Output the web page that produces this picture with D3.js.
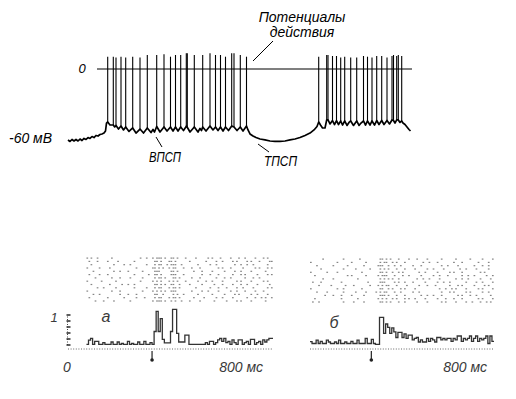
<!DOCTYPE html>
<html>
<head>
<meta charset="utf-8">
<script src="https://cdn.jsdelivr.net/npm/d3@7"></script>
<style>
body { margin: 0; background: #fff; }
svg { display: block; font-family: "Liberation Sans", Arial, sans-serif; font-style: italic; }
</style>
</head>
<body>
<svg id="chart" width="516" height="399"></svg>
<script>
// membrane potential between spikes, [time ms, mV]
let membrane = [
    [0,-61.7],[20,-63],[40,-61.3],[60,-62.6],[80,-61.3],[100,-62.6],[120,-60.9],[140,-62.2],[160,-60.4],[180,-61.3],
    [200,-59.6],[220,-60.4],[240,-58.7],[260,-59.6],[280,-57.8],[300,-58.3],[320,-57],[340,-56.5],[360,-55.7],[375,-53.9],
    [385,-47],[397,-46.1],[420,-48.7],[453,-48.7],[467,-50.4],[480,-49.1],[505,-52.2],[530,-49.6],[555,-53],[577,-50.4],
    [610,-54.3],[647,-51.3],[680,-55.7],[720,-52.2],[755,-55.7],[793,-51.3],[830,-55.2],[850,-52.6],[865,-54.8],[887,-50],
    [920,-54.8],[960,-50.4],[990,-53.9],[1025,-50.4],[1050,-53.9],[1075,-50.4],[1100,-53.9],[1127,-50.4],[1155,-53.5],[1185,-49.6],
    [1220,-54.8],[1263,-50.4],[1300,-54.8],[1320,-51.7],[1335,-53.5],[1347,-50.4],[1380,-53.9],[1420,-49.6],[1450,-53],[1475,-50.4],
    [1500,-53.5],[1525,-50.4],[1550,-53.9],[1575,-50.4],[1605,-53.5],[1637,-49.6],[1660,-50.4],[1690,-53.5],[1723,-50.4],[1750,-53.9],
    [1785,-49.6],[1800,-53],[1820,-56.5],[1850,-58.3],[1880,-59.6],[1920,-60.9],[1970,-61.7],[2020,-62.6],[2070,-63],[2120,-63],
    [2170,-62.6],[2220,-61.7],[2270,-60.9],[2320,-59.6],[2370,-57.8],[2420,-55.7],[2460,-53],[2490,-50],[2507,-46.1],[2525,-48.7],
    [2545,-51.3],[2570,-51.3],[2587,-44.3],[2600,-44.3],[2620,-47.8],[2645,-44.8],[2665,-48.3],[2685,-44.8],[2705,-48.3],[2727,-45.2],
    [2745,-48.7],[2767,-45.2],[2790,-49.1],[2810,-46.5],[2827,-45.2],[2855,-49.1],[2887,-45.2],[2910,-49.1],[2930,-47],[2955,-45.2],
    [2975,-48.7],[2995,-45.2],[3020,-48.7],[3040,-45.2],[3065,-48.7],[3087,-44.8],[3110,-48.3],[3137,-44.8],[3160,-48.3],[3190,-44.8],
    [3215,-47.8],[3240,-44.3],[3255,-44.8],[3270,-47],[3287,-44.3],[3303,-44.3],[3320,-46.5],[3337,-45.2],[3350,-47],[3370,-48.3],
    [3390,-50.4],[3410,-52.6],[3425,-53.9]
]

// action potentials: time (ms) and peak (mV)
let spikeTimes = [397,453,480,530,577,647,720,793,887,960,1025,1075,1127,1183,1193,1263,1347,1420,1475,1525,1575,1637,1660,1723,1785,
    2507,2587,2600,2645,2685,2727,2767,2827,2887,2955,2995,3040,3087,3137,3190,3240,3255,3287,3303,3337]
let spikePeaks = [10.7,10.7,10.1,10.7,10.1,10.7,10.1,12.2,12.2,12.8,10.7,12.2,12.2,13.6,13.6,12.2,12.2,13.6,12.2,12.2,10.7,13.6,13.6,12.2,10.7,
    10.7,12.2,12.2,11.3,11.3,10.1,10.7,10.1,10.1,11.3,10.7,10.1,11.3,11.3,10.1,11.3,12.2,11.3,12.2,11.3]

// PSTH, 10 ms bins; panel a starts at 90 ms, panel б at 0 ms
let histA = [0.02,0.16,0.22,0.02,0.12,0.12,0.02,0.02,0.08,0.02,
    0.02,0.02,0.1,0.02,0.02,0.1,0.02,0.05,0.02,0.02,
    0.12,0.02,0.05,0.02,0.02,0.1,0.02,0.02,0.12,0.02,
    0.02,0.08,0.02,0.45,1.12,0.45,0.88,0.19,0.07,0.07,
    0.07,0.45,1.19,1.19,0.39,0.1,0.1,0.1,0.33,0.33,
    0.02,0.02,0.02,0.02,0.02,0.02,0.02,0.02,0.08,0.02,
    0.12,0.12,0.02,0.08,0.17,0.22,0.12,0.22,0.08,0.12,
    0.02,0.17,0.08,0.02,0.17,0.17,0.02,0.08,0.12,0.02,
    0.19,0.19,0.02,0.08,0.12,0.02,0.17,0.1,0.17,0.22,0.22]
let histB = [0.11,0.05,0.05,0.16,0.05,0.12,0.05,0.05,0.16,0.1,
    0.05,0.05,0.1,0.05,0.16,0.05,0.05,0.1,0.05,0.05,
    0.12,0.05,0.05,0.16,0.05,0.05,0.05,0.22,0.05,0.05,
    0.19,0.05,0.02,0.02,0.92,0.92,0.39,0.7,0.59,0.39,
    0.57,0.44,0.25,0.42,0.42,0.25,0.37,0.22,0.33,0.33,
    0.17,0.22,0.25,0.1,0.17,0.1,0.1,0.22,0.12,0.22,
    0.17,0.1,0.25,0.25,0.17,0.22,0.17,0.22,0.22,0.12,
    0.22,0.17,0.3,0.3,0.12,0.22,0.17,0.22,0.3,0.12,
    0.22,0.3,0.12,0.22,0.17,0.22,0.3,0.05,0.3,0.12]

// raster rows, one char per 10 ms bin ('#' = spike)
let rasterA = [
    "#.#..#.... ..#....... ......#..# ..#.###.#. .##.#...#. ...#.....# .#...#.... #...#..#.. ..#...#.#. .",
    ".#...#.... #....#.... ...#...... ...##.#... ##.#...... #.......#. ...#..#... .#.#....#. #...#....# #",
    "..#....... ...#....#. .#.......# ...#.##..# .###..#... ....#..... #..#...... ..#..#..#. .#......#. .",
    "#.....#... .#........ ....#..... ..##.#.#.. #.##...#.. .#...#.... ....#.#... #.....#... ..#.#...#. #",
    "...#...... ...#..#... #......#.. ...###.... .##.#..... ..#...#... .#.....#.. ..#..#.... #......#.. .",
    ".#....#... #......... ...#...... #..##.#... .###...#.. ......#... #...#..... .#...#.#.. ...#....#. #",
    "....#..... ..#...#... .#.....#.. ...#.##.#. ..##.#.... .#...#.... ...#...#.. #......#.. .#..#..... .",
    "#......#.. ....#..... ......#... ..#.#.#... #.#.#...#. ....#...#. .#....#... ...#.#.... #.....#.#. .",
    "..#....... .#.....#.. #..#...... ...##.#.#. .##..#.... #.....#... ..#...#... .#...#..#. ...#.....# .",
    ".....#..#. ....#..... ...#.....# ...#.##... #.##.#.... ...#...... #...#...#. ...#..#... .#......#. #",
    "#......... ..#...#... .......#.. ..#.#.#.#. .###...... .#....#..# ....#..... #..#...#.. ..#...#... .",
    "...#..#... ......#... #...#..... ...##..#.. ..#.#..#.. ....#..... .#.....#.. ..#.#..... #..#....#. .",
    ".#........ #.......#. ....#...#. ...#.##... #.##.#.... ..#....#.. ...#..#... .#......#. ..#..#.#.. #",
    "....#...#. ...#...... .#........ ..#.###.#. .#.#..#... #....#.... ..#.....#. ...#.#.... #......#.. ."
]
let rasterB = [
    "......#... ......#... ....#..... ....##.#.# ...#....#. ..#....#.. ....#..... .#......#. ....#....#",
    "#......... ...#...... #......#.. ....#.##.. #.#...#... .....#..#. ..#....... #...#..... ..#....#..",
    "...#...... .#......#. ......#... ...###..#. .#..#..... #...#..... ....#..#.. ..#....... #...#..#..",
    ".....#.... ......#... ..#......# ....#.#.#. ..#...#... .#.....#.. #....#.... ...#..#... .#.....#..",
    "#.......#. ...#...... .....#.... ....##.#.. #..#.#.... ...#..#... ..#.....#. #...#..... ...#.#....",
    "..#....... ........#. #......#.. ...#.###.. .#...#..#. ....#..... #..#...#.. ....#..#.. #.....#..#",
    "......#... .#........ ...#...... ....#.#.#. #..#...... ..#..#..#. ...#...... .#..#..#.. ...#....#.",
    ".#...#.... .....#.... ........#. ....###... .#.#..#... #.....#... ..#..#..#. ......#... .#..#....#",
    "....#..... #......#.. .#.......# ...#.#.##. ..#....#.. ...#...#.. .#......#. ..#.#..... #....#.#..",
    "#......... ...#..#... .....#.... ....##..#. #...#.#... .#........ ...#..#..# .#....#... ..#.#....#",
    "...#....#. ......#... ..#....#.. ..#.#.##.. .#..#..... #..#...... ....#...#. #.....#.#. ....#..#..",
    ".......#.. .#...#.... #.....#... ....###.#. ..#...#... ....#..#.. #...#..... ..#.#...#. .#......#.",
    "..#....... .....#.... ...#...... ...#.#.#.. #.#...#.#. .#....#... ..#...#... #...#..... ..#.#....#",
    ".#..#..... ......#... .#....#... ....##.#.# ...#..#... ..#....#.. ....#.#... .#....#..# ...#..#.#."
]

let svg = d3.select('#chart')

// ---------- intracellular trace ----------
let xTrace = d3.scaleLinear().domain([0, 3440]).range([68, 412])
let yTrace = d3.scaleLinear().domain([-60, 0]).range([138, 69])

let baseAt = (t) => {
    let i = d3.bisector(d => d[0]).left(membrane, t)
    if (i <= 0) return membrane[0][1]
    if (i >= membrane.length) return membrane[membrane.length - 1][1]
    let a = membrane[i - 1], b = membrane[i]
    return a[1] + (b[1] - a[1]) * (t - a[0]) / (b[0] - a[0])
}

svg.append('line')
    .attr('x1', xTrace(290)).attr('x2', xTrace(3440))
    .attr('y1', yTrace(0)).attr('y2', yTrace(0))
    .attr('stroke', 'black').attr('stroke-width', 1.2)

svg.append('path')
    .datum(membrane)
    .attr('fill', 'none')
    .attr('stroke', 'black')
    .attr('stroke-width', 1.7)
    .attr('stroke-linejoin', 'round')
    .attr('d', d3.line().x(d => xTrace(d[0])).y(d => yTrace(d[1])))

spikeTimes.forEach((t, i) => {
    svg.append('line')
        .attr('x1', xTrace(t)).attr('x2', xTrace(t))
        .attr('y1', yTrace(baseAt(t))).attr('y2', yTrace(spikePeaks[i]))
        .attr('stroke', 'black').attr('stroke-width', 1.1)
})

svg.append('text').attr('x', 82).attr('y', 73).attr('text-anchor', 'middle')
    .style('font-size', '13px').text('0')
svg.append('text').attr('x', 9).attr('y', 143)
    .style('font-size', '14px').text('-60 мВ')

svg.append('text').attr('x', 302).attr('y', 22).attr('text-anchor', 'middle')
    .style('font-size', '14px').text('Потенциалы')
svg.append('text').attr('x', 302).attr('y', 37).attr('text-anchor', 'middle')
    .style('font-size', '14px').text('действия')
svg.append('line').attr('x1', 273).attr('y1', 41).attr('x2', 253).attr('y2', 61)
    .attr('stroke', 'black').attr('stroke-width', 1)

svg.append('text').attr('x', 149).attr('y', 162)
    .style('font-size', '14px').attr('textLength', 32).attr('lengthAdjust', 'spacingAndGlyphs').text('ВПСП')
svg.append('line').attr('x1', 156).attr('y1', 137).attr('x2', 162).attr('y2', 147)
    .attr('stroke', 'black').attr('stroke-width', 1)

svg.append('text').attr('x', 264).attr('y', 166)
    .style('font-size', '14px').attr('textLength', 33).attr('lengthAdjust', 'spacingAndGlyphs').text('ТПСП')
svg.append('line').attr('x1', 258).attr('y1', 144).attr('x2', 269).attr('y2', 152)
    .attr('stroke', 'black').attr('stroke-width', 1)

// ---------- PSTH panels ----------
let yHist = d3.scaleLinear().domain([0, 1]).range([345, 315])

let panels = [
    {hist: histA, raster: rasterA, t0: 90, stim: 410, rowY: 257.5,
     x: d3.scaleLinear().domain([0, 1000]).range([68, 273])},
    {hist: histB, raster: rasterB, t0: 0, stim: 300, rowY: 258.5,
     x: d3.scaleLinear().domain([0, 900]).range([310, 494])}
]

for (let p of panels) {
    let g = svg.append('g')
    // raster
    p.raster.forEach((row, r) => {
        let s = row.replace(/ /g, '')
        for (let i = 0; i < s.length; i++) {
            if (s[i] != '#') continue
            g.append('rect')
                .attr('x', p.x(p.t0 + i * 10))
                .attr('y', p.rowY + r * 3.3)
                .attr('width', 1.7)
                .attr('height', 1.2)
                .attr('fill', '#858585')
        }
    })
    // histogram
    let pts = p.hist.map((v, i) => [p.t0 + i * 10, v])
    pts.push([p.t0 + p.hist.length * 10, p.hist[p.hist.length - 1]])
    g.append('path')
        .datum(pts)
        .attr('fill', 'none')
        .attr('stroke', '#333')
        .attr('stroke-width', 1.3)
        .attr('d', d3.line().curve(d3.curveStepAfter).x(d => p.x(d[0])).y(d => yHist(d[1])))
    // dotted time axis
    let dom = p.x.domain()
    g.append('line')
        .attr('x1', p.x(dom[0])).attr('x2', p.x(dom[1]))
        .attr('y1', 349).attr('y2', 349)
        .attr('stroke', '#666').attr('stroke-width', 1)
        .attr('stroke-dasharray', '1 1.6')
    // stimulus marker
    g.append('line')
        .attr('x1', p.x(p.stim)).attr('x2', p.x(p.stim))
        .attr('y1', 351).attr('y2', 359)
        .attr('stroke', '#222').attr('stroke-width', 1.2)
    g.append('circle')
        .attr('cx', p.x(p.stim)).attr('cy', 360).attr('r', 1.8)
        .attr('fill', '#222')
}

// scale bar of panel a
let sb = svg.append('g')
sb.append('line').attr('x1', 67.5).attr('x2', 67.5).attr('y1', yHist(0)).attr('y2', yHist(1))
    .attr('stroke', '#444').attr('stroke-width', 1).attr('stroke-dasharray', '1 1.5')
d3.range(0, 1.01, 0.2).forEach(v => {
    sb.append('line').attr('x1', 66.5).attr('x2', 70.5).attr('y1', yHist(v)).attr('y2', yHist(v))
        .attr('stroke', '#333').attr('stroke-width', 1.6)
})

let grey = '#3a3a3a'
svg.append('text').attr('x', 54).attr('y', 322).attr('text-anchor', 'middle')
    .style('font-size', '13px').attr('fill', grey).text('1')
svg.append('text').attr('x', 106).attr('y', 322).attr('text-anchor', 'middle')
    .style('font-size', '16px').attr('fill', grey).text('а')
svg.append('text').attr('x', 334).attr('y', 328).attr('text-anchor', 'middle')
    .style('font-size', '16px').attr('fill', grey).text('б')
svg.append('text').attr('x', 67).attr('y', 372).attr('text-anchor', 'middle')
    .style('font-size', '14px').attr('fill', grey).text('0')
svg.append('text').attr('x', 263).attr('y', 372).attr('text-anchor', 'end')
    .style('font-size', '14px').attr('fill', grey).text('800 мс')
svg.append('text').attr('x', 487).attr('y', 372).attr('text-anchor', 'end')
    .style('font-size', '14px').attr('fill', grey).text('800 мс')
</script>
</body>
</html>
